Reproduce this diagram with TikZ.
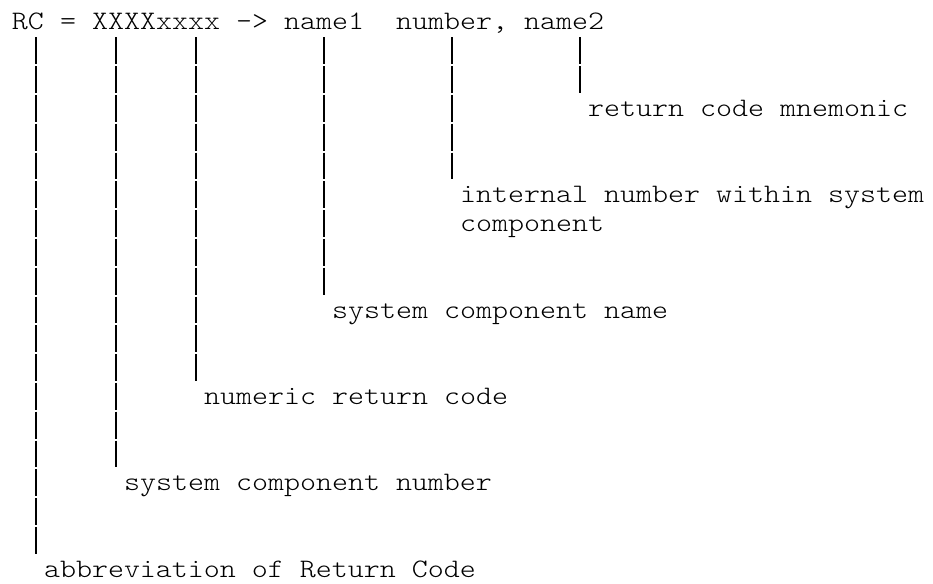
\documentclass[tikz,border=0pt]{standalone}
\usepackage{fontspec}
% typewriter face widened so that one character cell is 16pt at 26.67pt
\newfontfamily\codefont[FakeStretch=1.1427]{Latin Modern Mono Light}
\usetikzlibrary{calc}
\begin{document}
% One character cell is 16pt wide, one text line is 28.8pt high.
\begin{tikzpicture}[x=1pt,y=-1pt,
  txt/.style={font=\codefont\fontsize{26.67}{28.8}\selectfont,
              inner sep=0pt, outer sep=0pt, anchor=base west, text=black},
  bar/.style={draw=black, line width=1.1pt, dash pattern=on 26.8pt off 2pt}]
\useasboundingbox (0,0) rectangle (933,583);

% header line: RC = XXXXxxxx -> name1  number, name2
\node[txt] (rc)     at (12,30)  {RC};
\node[txt] (eq)     at (60,30)  {=};
\node[txt] (code)   at (92,30)  {XXXXxxxx};
\node[txt] (arrow)  at (236,30) {->};
\node[txt] (nameA)  at (284,30) {name1};
\node[txt] (num)    at (396,30) {number,};
\node[txt] (nameB)  at (524,30) {name2};

% explanations, each one line below the end of its bar
\node[txt] (mnem)   at (588,116.4) {return code mnemonic};
\node[txt] (intnum) at (460,202.8) {internal number within system};
\node[txt] (intnum2) at (460,231.6) {component};
\node[txt] (compname) at (332,318) {system component name};
\node[txt] (numrc)  at (204,404.4) {numeric return code};
\node[txt] (compnum) at (124,490.8) {system component number};
\node[txt] (abbr)   at (44,577.2) {abbreviation of Return Code};

% bars from the header characters down to their explanations
\draw[bar] ($(rc.base west)+(24pt,-7.3pt)$)     -- ($(abbr.base west)+(-8pt,23.5pt)$);
\draw[bar] ($(code.base west)+(24pt,-7.3pt)$)   -- ($(compnum.base west)+(-8pt,23.5pt)$);
\draw[bar] ($(code.base west)+(104pt,-7.3pt)$)  -- ($(numrc.base west)+(-8pt,23.5pt)$);
\draw[bar] ($(nameA.base west)+(40pt,-7.3pt)$)  -- ($(compname.base west)+(-8pt,23.5pt)$);
\draw[bar] ($(num.base west)+(56pt,-7.3pt)$)    -- ($(intnum.base west)+(-8pt,23.5pt)$);
\draw[bar] ($(nameB.base west)+(56pt,-7.3pt)$)  -- ($(mnem.base west)+(-8pt,23.5pt)$);
\end{tikzpicture}
\end{document}
